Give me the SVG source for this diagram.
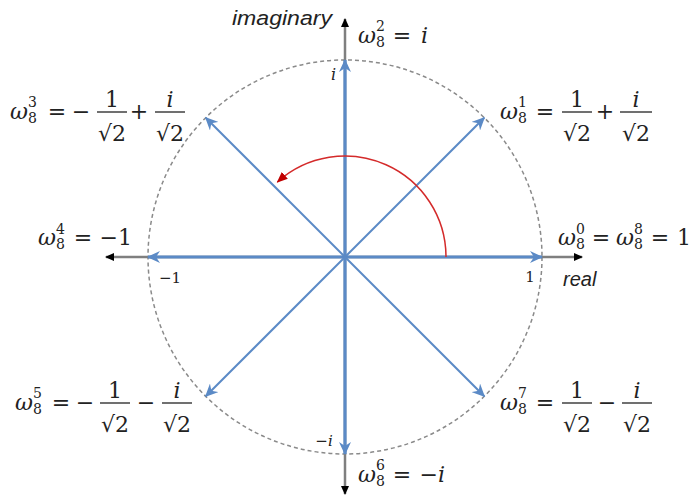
<svg xmlns="http://www.w3.org/2000/svg" width="696" height="497" viewBox="0 0 696 497">
<style>
.m{font-family:"DejaVu Serif","Liberation Serif",serif;font-size:22px;fill:#222}
.i{font-style:italic}
.s{font-family:"DejaVu Serif","Liberation Serif",serif;font-size:14px;fill:#222}
.c{text-anchor:middle}
.e{text-anchor:end}
.lab{font-family:"Liberation Sans",Arial,sans-serif;font-style:italic;font-size:20px;fill:#222}
.t{font-family:"DejaVu Serif","Liberation Serif",serif;font-size:15px;fill:#222}
.bar{stroke:#222;stroke-width:1.3}
.ax{stroke:#7f7f7f;stroke-width:2.5;fill:none}
.bl{stroke:#5b8ac6;fill:none}
</style>
<defs>
<marker id="ka" markerUnits="userSpaceOnUse" markerWidth="10" markerHeight="10" refX="8" refY="4" orient="auto">
<path d="M0,0 L9,4 L0,8 z" fill="#000"/>
</marker>
<marker id="ba" markerUnits="userSpaceOnUse" markerWidth="14" markerHeight="12" refX="12" refY="6" orient="auto">
<path d="M0,0 L13,6 L0,12 L4,6 z" fill="#5b8ac6"/>
</marker>
<marker id="ra" markerUnits="userSpaceOnUse" markerWidth="12" markerHeight="10" refX="10" refY="4.5" orient="auto">
<path d="M0,0 L11,4.5 L0,9 z" fill="#c00000"/>
</marker>
</defs>
<g id="connectors">
<circle cx="345" cy="257" r="197" fill="none" stroke="#8a8a8a" stroke-width="1.5" stroke-dasharray="4 3"/>
<line class="ax" x1="345" y1="257" x2="582" y2="257" marker-end="url(#ka)"/>
<line class="ax" x1="345" y1="257" x2="106" y2="257" marker-end="url(#ka)"/>
<line class="ax" x1="345" y1="257" x2="345" y2="19" marker-end="url(#ka)"/>
<line class="ax" x1="345" y1="257" x2="345" y2="494" marker-end="url(#ka)"/>
<line class="bl" stroke-width="3.2" x1="345" y1="257" x2="542" y2="257" marker-end="url(#ba)"/>
<line class="bl" stroke-width="3.2" x1="345" y1="257" x2="148" y2="257" marker-end="url(#ba)"/>
<line class="bl" stroke-width="3.2" x1="345" y1="257" x2="345" y2="60" marker-end="url(#ba)"/>
<line class="bl" stroke-width="3.2" x1="345" y1="257" x2="345" y2="454" marker-end="url(#ba)"/>
<line class="bl" stroke-width="2" x1="345" y1="257" x2="484.3" y2="117.7" marker-end="url(#ba)"/>
<line class="bl" stroke-width="2" x1="345" y1="257" x2="205.7" y2="117.7" marker-end="url(#ba)"/>
<line class="bl" stroke-width="2" x1="345" y1="257" x2="205.7" y2="396.3" marker-end="url(#ba)"/>
<line class="bl" stroke-width="2" x1="345" y1="257" x2="484.3" y2="396.3" marker-end="url(#ba)"/>
<path d="M446,257 A101,101 0 0,0 277.4,182" fill="none" stroke="#d42a2a" stroke-width="1.5" marker-end="url(#ra)"/>
</g>
<g id="axis-labels">
<text class="lab" x="232" y="25" textLength="100" lengthAdjust="spacingAndGlyphs">imaginary</text>
<text class="lab" x="563" y="286">real</text>
<text class="t i" x="331" y="80" style="font-size:16px">i</text>
<text class="t" x="530" y="282" text-anchor="middle">1</text>
<text class="t" x="170" y="283" text-anchor="middle">−1</text>
<text class="t i" x="324" y="446" text-anchor="middle">−i</text>
</g>
<g id="w0">
<text class="m i" x="558" y="245">ω</text>
<text class="s" x="576" y="234">0</text>
<text class="s" x="576" y="249">8</text>
<text class="m c" x="601" y="245">=</text>
<text class="m i" x="616" y="245">ω</text>
<text class="s" x="634" y="234">8</text>
<text class="s" x="634" y="249">8</text>
<text class="m c" x="660" y="245">=</text>
<text class="m e" x="691" y="245">1</text>
</g>
<g id="w1">
<text class="m i" x="500" y="119">ω</text>
<text class="s" x="518" y="107">1</text>
<text class="s" x="518" y="123">8</text>
<text class="m c" x="545" y="119">=</text>
<text class="m c" x="577" y="107">1</text>
<line class="bar" x1="562" y1="112" x2="592" y2="112"/>
<text class="m c" x="577" y="141">√2</text>
<text class="m c" x="605" y="119">+</text>
<text class="m c i" x="636" y="107">i</text>
<line class="bar" x1="620" y1="112" x2="652" y2="112"/>
<text class="m c" x="636" y="141">√2</text>
</g>
<g id="w2">
<text class="m i" x="358" y="43">ω</text>
<text class="s" x="376" y="31">2</text>
<text class="s" x="376" y="47">8</text>
<text class="m c" x="402" y="43">=</text>
<text class="m i e" x="428" y="43">i</text>
</g>
<g id="w3">
<text class="m i" x="10" y="119">ω</text>
<text class="s" x="28" y="107">3</text>
<text class="s" x="28" y="123">8</text>
<text class="m c" x="57" y="119">=</text>
<text class="m c" x="81" y="119">−</text>
<text class="m c" x="112" y="107">1</text>
<line class="bar" x1="97" y1="112" x2="127" y2="112"/>
<text class="m c" x="112" y="141">√2</text>
<text class="m c" x="139" y="119">+</text>
<text class="m c i" x="170" y="107">i</text>
<line class="bar" x1="155" y1="112" x2="185" y2="112"/>
<text class="m c" x="170" y="141">√2</text>
</g>
<g id="w4">
<text class="m i" x="38" y="245">ω</text>
<text class="s" x="56" y="234">4</text>
<text class="s" x="56" y="249">8</text>
<text class="m c" x="83" y="245">=</text>
<text class="m e" x="132" y="245">−1</text>
</g>
<g id="w5">
<text class="m i" x="15" y="410">ω</text>
<text class="s" x="33" y="398">5</text>
<text class="s" x="33" y="414">8</text>
<text class="m c" x="61" y="410">=</text>
<text class="m c" x="85" y="410">−</text>
<text class="m c" x="115" y="398">1</text>
<line class="bar" x1="100" y1="403" x2="130" y2="403"/>
<text class="m c" x="115" y="432">√2</text>
<text class="m c" x="146" y="410">−</text>
<text class="m c i" x="177" y="398">i</text>
<line class="bar" x1="162" y1="403" x2="192" y2="403"/>
<text class="m c" x="177" y="432">√2</text>
</g>
<g id="w6">
<text class="m i" x="358" y="482">ω</text>
<text class="s" x="376" y="470">6</text>
<text class="s" x="376" y="486">8</text>
<text class="m c" x="402" y="482">=</text>
<text class="m i e" x="445" y="482">−i</text>
</g>
<g id="w7">
<text class="m i" x="500" y="410">ω</text>
<text class="s" x="518" y="398">7</text>
<text class="s" x="518" y="414">8</text>
<text class="m c" x="545" y="410">=</text>
<text class="m c" x="577" y="398">1</text>
<line class="bar" x1="562" y1="403" x2="592" y2="403"/>
<text class="m c" x="577" y="432">√2</text>
<text class="m c" x="607" y="410">−</text>
<text class="m c i" x="637" y="398">i</text>
<line class="bar" x1="622" y1="403" x2="652" y2="403"/>
<text class="m c" x="637" y="432">√2</text>
</g>
</svg>
